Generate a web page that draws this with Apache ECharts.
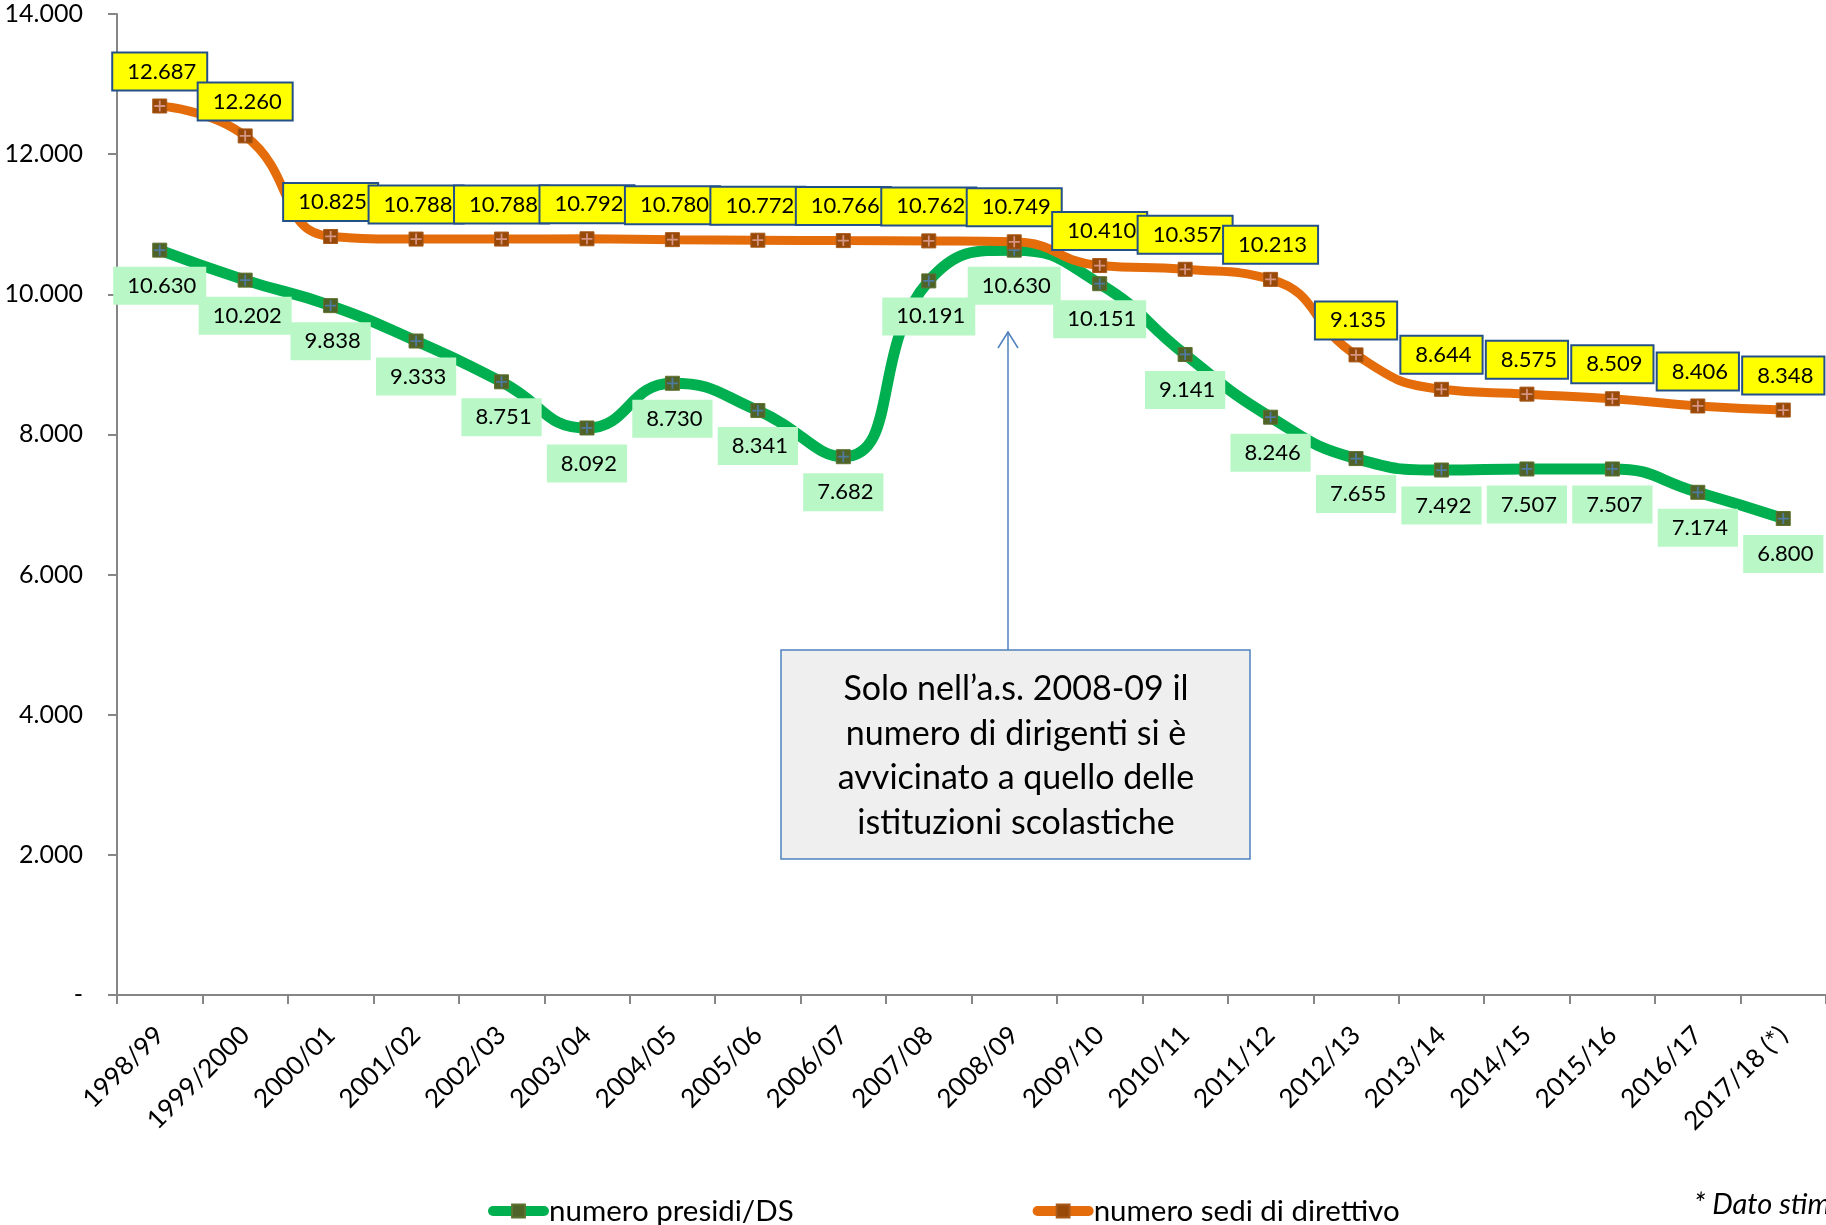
<!DOCTYPE html>
<html>
<head>
<meta charset="utf-8">
<script src="https://cdn.jsdelivr.net/npm/echarts@6/dist/echarts.min.js"></script>
<style>
html,body{margin:0;padding:0;background:#fff;}
#chart{width:1826px;height:1225px;}
</style>
</head>
<body>
<div id="chart"></div>
<script>
const categories = ['1998/99','1999/2000','2000/01','2001/02','2002/03','2003/04','2004/05','2005/06','2006/07','2007/08','2008/09','2009/10','2010/11','2011/12','2012/13','2013/14','2014/15','2015/16','2016/17','2017/18 (*)'];
const presidiDS = [10630,10202,9838,9333,8751,8092,8730,8341,7682,10191,10630,10151,9141,8246,7655,7492,7507,7507,7174,6800];
const sediDirettivo = [12687,12260,10825,10788,10788,10792,10780,10772,10766,10762,10749,10410,10357,10213,9135,8644,8575,8509,8406,8348];
const seriesNames = ['numero presidi/DS','numero sedi di direttivo'];
const yTicks = {min:0, max:14000, interval:2000};
const annotationText = 'Solo nell\u2019a.s. 2008-09 il\nnumero di dirigenti si è\navvicinato a quello delle\nistituzioni scolastiche';
const noteText = '* Dato stimato';

const FONT = 'Lato, "Open Sans", sans-serif';
function fmt(v){
  if (v === 0) return '-';
  return String(Math.round(v)).replace(/\B(?=(\d{3})+(?!\d))/g, '.');
}
const plusPath = 'path://M4.2,0h1.6v10h-1.6z M0,4.2h10v1.6h-10z';

const chart = echarts.init(document.getElementById('chart'), null, {renderer:'canvas'});
chart.setOption({
  backgroundColor:'#ffffff',
  animation:false,
  textStyle:{fontFamily:FONT},
  grid:{left:117, right:0, top:14, bottom:230, containLabel:false},
  legend:{
    data:[
      {name:seriesNames[0]},
      {name:seriesNames[1]}
    ],
    left:483, top:1191,
    itemWidth:51, itemHeight:16, itemGap:239,
    lineStyle:{width:10, cap:'round'},
    textStyle:{fontFamily:FONT, fontSize:29.5, color:'#000'}
  },
  xAxis:{
    type:'category',
    data:categories,
    boundaryGap:true,
    axisLine:{lineStyle:{color:'#868686', width:2}},
    axisTick:{show:true, length:9, lineStyle:{color:'#868686', width:2}},
    axisLabel:{rotate:45, interval:0, fontSize:26, color:'#000', margin:36, fontFamily:FONT},
    splitLine:{show:false}
  },
  yAxis:{
    type:'value',
    min:yTicks.min, max:yTicks.max, interval:yTicks.interval,
    axisLine:{show:true, lineStyle:{color:'#868686', width:2}},
    axisTick:{show:true, length:9, lineStyle:{color:'#868686', width:2}},
    axisLabel:{formatter:fmt, fontSize:25, color:'#000', margin:34, fontFamily:FONT},
    splitLine:{show:false}
  },
  series:[
    {
      name:seriesNames[0], type:'line', data:presidiDS, smooth:0.5,
      lineStyle:{color:'#00B050', width:11},
      itemStyle:{color:'#4F6228', borderColor:'#5E7330', borderWidth:1},
      symbol:'rect', symbolSize:14,
      label:{
        show:true, position:'bottom', distance:9,
        formatter:p=>fmt(p.value),
        fontSize:22, color:'#000', fontFamily:FONT,
        backgroundColor:'#B9F7C6', padding:[8,10,8,14], lineHeight:22
      },
      z:2
    },
    {
      name:'plus1', type:'scatter', data:presidiDS, symbol:plusPath, symbolSize:11,
      itemStyle:{color:'#4F81BD'}, silent:true, z:3
    },
    {
      name:seriesNames[1], type:'line', data:sediDirettivo, smooth:0.5,
      lineStyle:{color:'#E46C0A', width:9},
      itemStyle:{color:'#984807', borderColor:'#A85A1A', borderWidth:1},
      symbol:'rect', symbolSize:14,
      label:{
        show:true, position:'top', distance:9,
        formatter:p=>fmt(p.value),
        fontSize:22, color:'#000', fontFamily:FONT,
        backgroundColor:'#FFFF00', borderColor:'#24508A', borderWidth:2,
        padding:[7,10,7,14], lineHeight:22
      },
      z:4
    },
    {
      name:'plus2', type:'scatter', data:sediDirettivo, symbol:plusPath, symbolSize:11,
      itemStyle:{color:'#E6A7A3'}, silent:true, z:5
    }
  ],
  graphic:[
    {type:'line', shape:{x1:1008, y1:650, x2:1008, y2:333}, style:{stroke:'#4F81BD', lineWidth:1.5}, z:10},
    {type:'polyline', shape:{points:[[998,348],[1008,332],[1018,348]]}, style:{stroke:'#4F81BD', lineWidth:1.5, fill:null}, z:10},
    {type:'rect', shape:{x:781, y:650, width:469, height:209}, style:{fill:'#EFEFEF', stroke:'#4F81BD', lineWidth:1.5}, z:10},
    {type:'text', x:1016, y:756, style:{text:annotationText, font:'34px '+FONT, fill:'#000', textAlign:'center', textVerticalAlign:'middle', lineHeight:44.5}, z:11},
    {type:'text', x:1694, y:1205, style:{text:noteText, font:'italic 29px '+FONT, fill:'#000', textAlign:'left', textVerticalAlign:'middle'}, z:11}
  ]
});
</script>
</body>
</html>
